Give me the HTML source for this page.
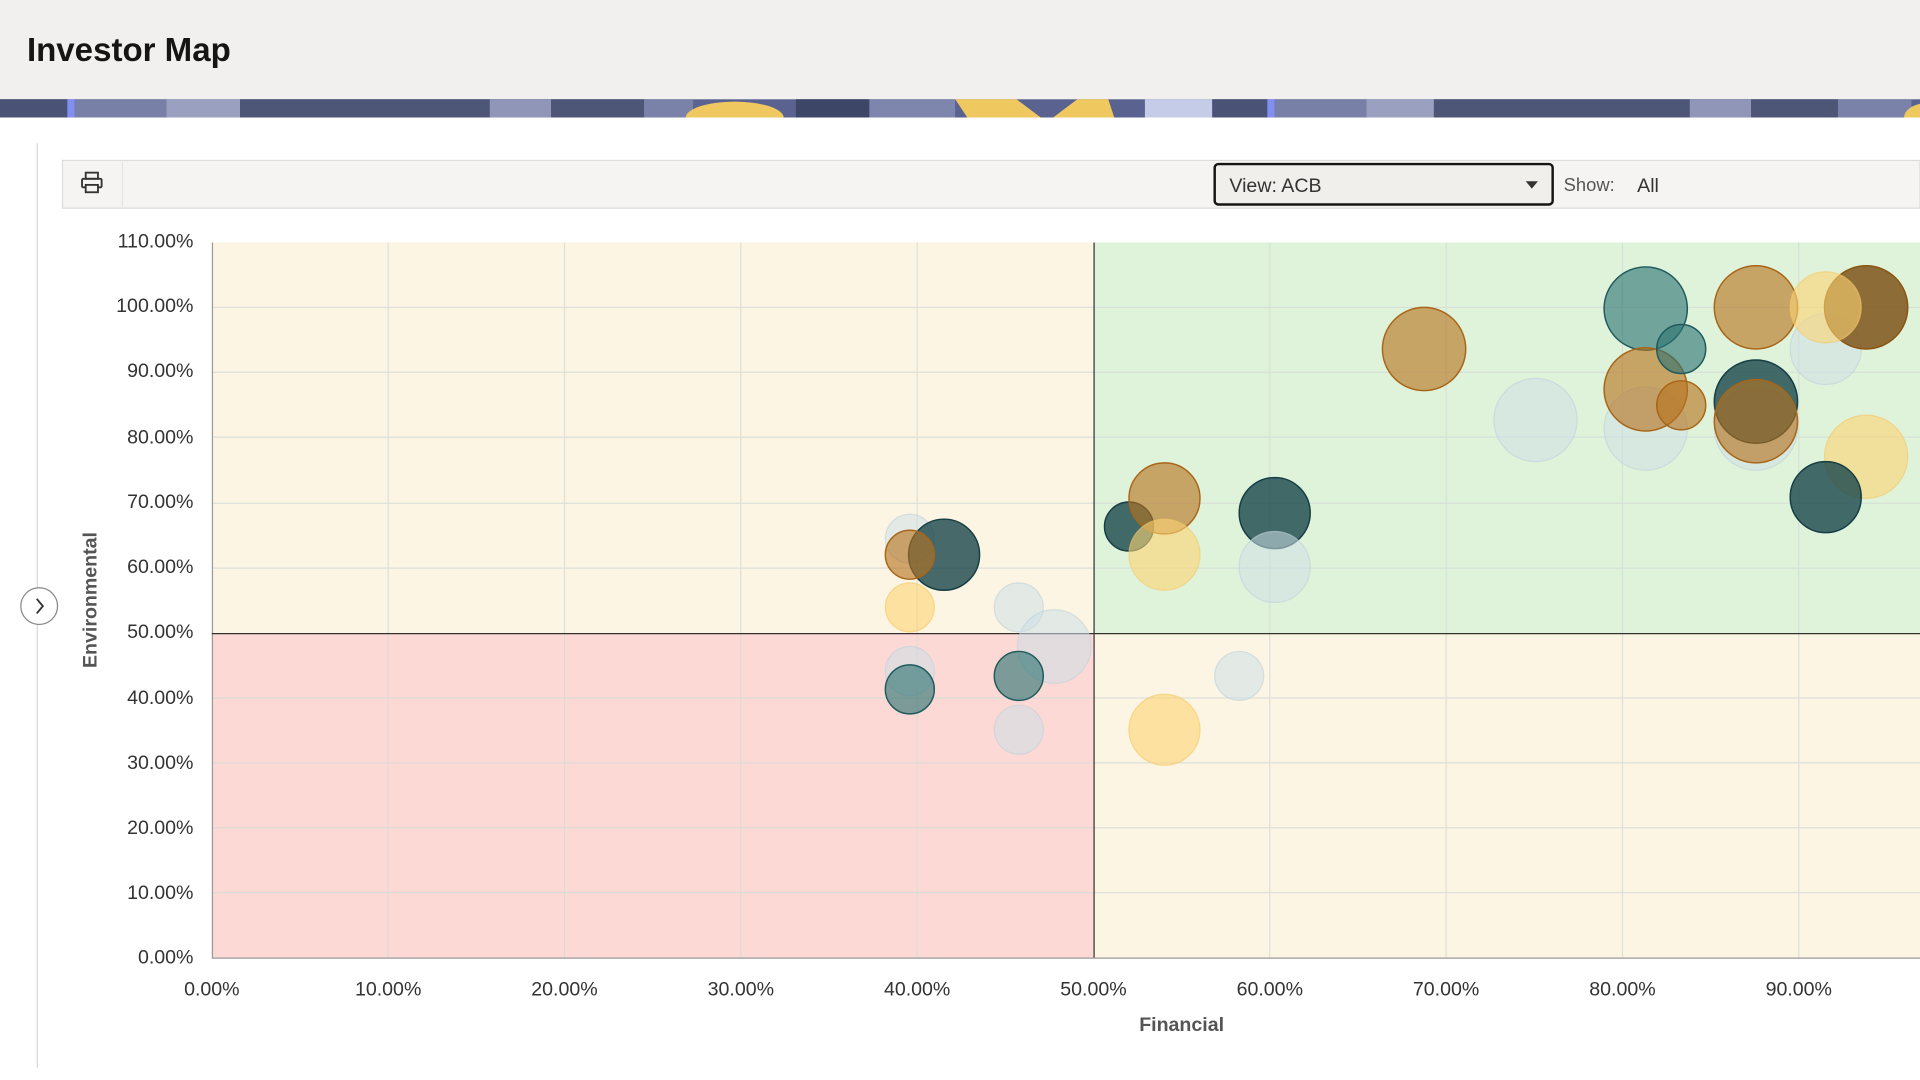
<!DOCTYPE html>
<html><head><meta charset="utf-8"><style>
html,body{margin:0;padding:0;width:1920px;height:1080px;overflow:hidden;background:#fff}
svg{display:block}
text{font-family:"Liberation Sans",sans-serif}
</style></head><body>
<svg width="1920" height="1080" viewBox="0 0 1568 882" preserveAspectRatio="none" xmlns="http://www.w3.org/2000/svg">
<defs>
<clipPath id="bn"><rect x="0" y="81" width="1568" height="15"/></clipPath>
<style>
.l{fill:rgba(205,222,230,0.55);stroke:rgba(190,210,220,0.6)}
.o{fill:rgba(182,115,30,0.62);stroke:#a86518;stroke-width:1.2}
.t{fill:rgba(45,115,115,0.62);stroke:#1f5a5e;stroke-width:1.2}
.d{fill:rgba(25,70,75,0.8);stroke:#163e44;stroke-width:1.2}
.y{fill:rgba(252,212,115,0.6);stroke:rgba(245,200,100,0.6)}
.b{fill:rgba(125,78,18,0.82);stroke:#8a5510;stroke-width:1.2}
</style>
</defs>
<rect x="0" y="0" width="1568" height="81" fill="#f1f0ee"/>
<text x="22" y="50" font-size="27" font-weight="bold" fill="#161513">Investor Map</text>
<g clip-path="url(#bn)">
<rect x="0" y="81" width="1568" height="15" fill="#5a6290"/>
<rect x="0" y="81" width="55" height="15" fill="#4a5275"/>
<rect x="55" y="81" width="6" height="15" fill="#8090f0"/>
<rect x="61" y="81" width="75" height="15" fill="#7880a8"/>
<rect x="136" y="81" width="60" height="15" fill="#9aa0c0"/>
<rect x="196" y="81" width="330" height="15" fill="#4e5678"/>
<rect x="400" y="81" width="50" height="15" fill="#9096b8"/>
<rect x="526" y="81" width="40" height="15" fill="#7a82aa"/>
<ellipse cx="600" cy="96" rx="40" ry="13" fill="#f0c860"/>
<rect x="650" y="81" width="60" height="15" fill="#3e4668"/>
<rect x="710" y="81" width="70" height="15" fill="#7e86ae"/>
<polygon points="780,81 830,81 850,96 790,96" fill="#f0c860"/>
<polygon points="880,81 905,81 910,96 860,96" fill="#f0c860"/>
<rect x="935" y="81" width="55" height="15" fill="#c4cce8"/>
<rect x="990" y="81" width="45" height="15" fill="#4a5275"/>
<rect x="1035" y="81" width="6" height="15" fill="#8090f0"/>
<rect x="1041" y="81" width="75" height="15" fill="#7880a8"/>
<rect x="1116" y="81" width="55" height="15" fill="#9aa0c0"/>
<rect x="1171" y="81" width="330" height="15" fill="#4e5678"/>
<rect x="1380" y="81" width="50" height="15" fill="#9096b8"/>
<rect x="1501" y="81" width="60" height="15" fill="#7a82aa"/>
<ellipse cx="1575" cy="96" rx="20" ry="12" fill="#f0c860"/>
</g>
<line x1="30.5" y1="117" x2="30.5" y2="872" stroke="#d8d8d8" stroke-width="1"/>
<rect x="51" y="131" width="1517" height="39" fill="#f5f4f2" stroke="#dedcd8" stroke-width="1"/>
<line x1="100" y1="132" x2="100" y2="169" stroke="#e6e4e0"/>
<g fill="none" stroke="#333" stroke-width="1.5">
<rect x="70" y="141" width="10" height="5"/>
<rect x="67" y="146" width="16" height="7" rx="1"/>
<rect x="70" y="151" width="10" height="6" fill="#f5f4f2"/>
</g>
<rect x="992" y="134" width="276" height="33" rx="3" fill="#f1efec" stroke="#161513" stroke-width="2"/>
<text x="1004" y="157" font-size="16" fill="#333">View: ACB</text>
<polygon points="1246,148 1256,148 1251,154" fill="#333"/>
<text x="1277" y="156" font-size="15" fill="#555">Show:</text>
<text x="1337" y="157" font-size="16" fill="#333">All</text>
<circle cx="32" cy="495" r="15" fill="#fff" stroke="#888"/>
<polyline points="30,489 35,495 30,501" fill="none" stroke="#333" stroke-width="1.5"/>
<rect x="173" y="198" width="720" height="319" fill="#fdf5e3"/>
<rect x="893" y="198" width="675" height="319" fill="#dff3da"/>
<rect x="173" y="517" width="720" height="265" fill="#fcd9d5"/>
<rect x="893" y="517" width="675" height="265" fill="#fdf5e3"/>
<g stroke="#d5dcd8" stroke-width="1" opacity="0.8">
<line x1="317" y1="198" x2="317" y2="782"/><line x1="461" y1="198" x2="461" y2="782"/>
<line x1="605" y1="198" x2="605" y2="782"/><line x1="749" y1="198" x2="749" y2="782"/>
<line x1="1037" y1="198" x2="1037" y2="782"/><line x1="1181" y1="198" x2="1181" y2="782"/>
<line x1="1325" y1="198" x2="1325" y2="782"/><line x1="1469" y1="198" x2="1469" y2="782"/>
<line x1="173" y1="251" x2="1568" y2="251"/><line x1="173" y1="304" x2="1568" y2="304"/>
<line x1="173" y1="357" x2="1568" y2="357"/><line x1="173" y1="411" x2="1568" y2="411"/>
<line x1="173" y1="464" x2="1568" y2="464"/><line x1="173" y1="570" x2="1568" y2="570"/>
<line x1="173" y1="623" x2="1568" y2="623"/><line x1="173" y1="676" x2="1568" y2="676"/>
<line x1="173" y1="729" x2="1568" y2="729"/>
</g>
<line x1="173.5" y1="198" x2="173.5" y2="782" stroke="#9a9a9a"/>
<line x1="173" y1="782.5" x2="1568" y2="782.5" stroke="#9a9a9a"/>
<line x1="893.5" y1="198" x2="893.5" y2="782" stroke="#333"/>
<line x1="173" y1="517.5" x2="1568" y2="517.5" stroke="#333"/>
<g font-size="16" fill="#333" text-anchor="end">
<text x="158" y="202">110.00%</text><text x="158" y="255">100.00%</text>
<text x="158" y="308">90.00%</text><text x="158" y="362">80.00%</text>
<text x="158" y="415">70.00%</text><text x="158" y="468">60.00%</text>
<text x="158" y="521">50.00%</text><text x="158" y="575">40.00%</text>
<text x="158" y="628">30.00%</text><text x="158" y="681">20.00%</text>
<text x="158" y="734">10.00%</text><text x="158" y="787">0.00%</text>
</g>
<g font-size="16" fill="#333" text-anchor="middle">
<text x="173" y="813">0.00%</text><text x="317" y="813">10.00%</text>
<text x="461" y="813">20.00%</text><text x="605" y="813">30.00%</text>
<text x="749" y="813">40.00%</text><text x="893" y="813">50.00%</text>
<text x="1037" y="813">60.00%</text><text x="1181" y="813">70.00%</text>
<text x="1325" y="813">80.00%</text><text x="1469" y="813">90.00%</text>
</g>
<text x="965" y="842" font-size="16" font-weight="bold" fill="#555" text-anchor="middle">Financial</text>
<text transform="translate(79,490) rotate(-90)" font-size="16" font-weight="bold" fill="#555" text-anchor="middle">Environmental</text>
<circle class="l" cx="743" cy="440" r="20"/>
<circle class="d" cx="771" cy="453" r="29"/>
<circle class="o" cx="743" cy="453" r="20"/>
<circle class="y" cx="743" cy="496" r="20"/>
<circle class="l" cx="832" cy="496" r="20"/>
<circle class="l" cx="861" cy="528" r="30"/>
<circle class="l" cx="743" cy="548" r="20"/>
<circle class="t" cx="743" cy="563" r="20"/>
<circle class="t" cx="832" cy="552" r="20"/>
<circle class="l" cx="832" cy="596" r="20"/>
<circle class="d" cx="922" cy="430" r="20"/>
<circle class="o" cx="951" cy="407" r="29"/>
<circle class="y" cx="951" cy="453" r="29"/>
<circle class="d" cx="1041" cy="419" r="29"/>
<circle class="l" cx="1041" cy="463" r="29"/>
<circle class="l" cx="1012" cy="552" r="20"/>
<circle class="y" cx="951" cy="596" r="29"/>
<circle class="o" cx="1163" cy="285" r="34"/>
<circle class="l" cx="1254" cy="343" r="34"/>
<circle class="l" cx="1344" cy="350" r="34"/>
<circle class="t" cx="1344" cy="252" r="34"/>
<circle class="o" cx="1344" cy="318" r="34"/>
<circle class="t" cx="1373" cy="285" r="20"/>
<circle class="o" cx="1373" cy="331" r="20"/>
<circle class="l" cx="1434" cy="350" r="34"/>
<circle class="d" cx="1434" cy="328" r="34"/>
<circle class="o" cx="1434" cy="344" r="34"/>
<circle class="o" cx="1434" cy="251" r="34"/>
<circle class="l" cx="1491" cy="285" r="29"/>
<circle class="b" cx="1524" cy="251" r="34"/>
<circle class="y" cx="1491" cy="251" r="29"/>
<circle class="y" cx="1524" cy="373" r="34"/>
<circle class="d" cx="1491" cy="406" r="29"/>
</svg>
</body></html>
